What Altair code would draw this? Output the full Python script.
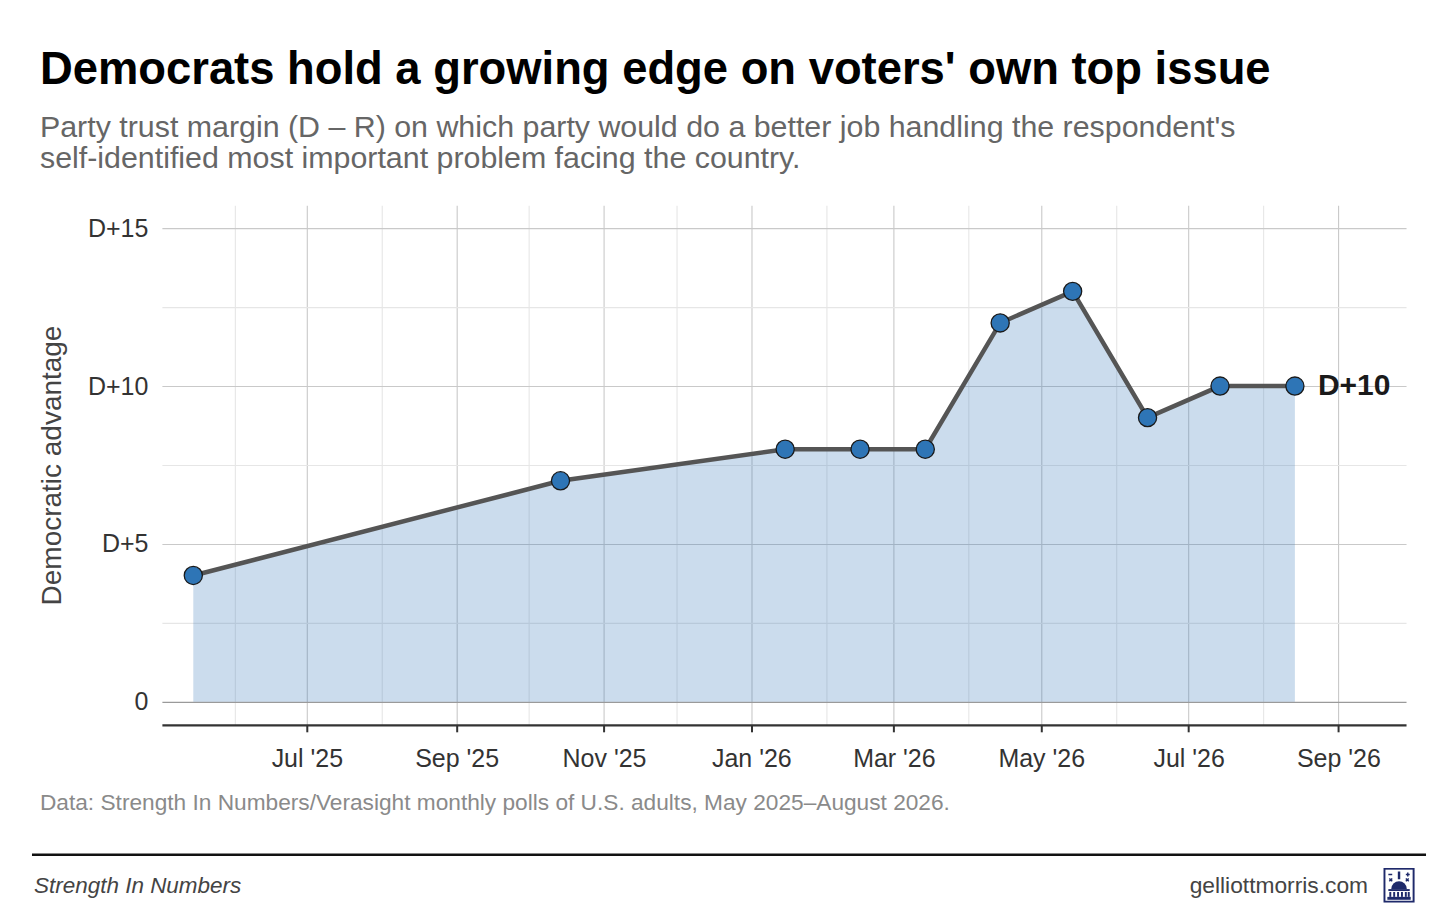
import altair as alt
import pandas as pd
from urllib.parse import quote

# ---- data ----
poll_dates = ["2025-05-15", "2025-10-14", "2026-01-15", "2026-02-15", "2026-03-14",
              "2026-04-14", "2026-05-14", "2026-06-14", "2026-07-14", "2026-08-14"]
margins = [4, 7, 8, 8, 8, 12, 13, 9, 10, 10]

y_ticks = [0, 2.5, 5, 7.5, 10, 12.5, 15]
x_ticks = [(2025, m) for m in range(6, 13)] + [(2026, m) for m in range(1, 10)]

title_text = "Democrats hold a growing edge on voters' own top issue"
subtitle_lines = [
    "Party trust margin (D \u2013 R) on which party would do a better job handling the respondent's",
    "self-identified most important problem facing the country.",
]
caption_text = "Data: Strength In Numbers/Verasight monthly polls of U.S. adults, May 2025\u2013August 2026."
footer_left = "Strength In Numbers"
footer_right = "gelliottmorris.com"

FONT = "Liberation Sans"

df = pd.DataFrame({"date": poll_dates, "margin": margins})
df["label"] = ["D+" + str(v) for v in margins]
df["is_last"] = [i == len(margins) - 1 for i in range(len(margins))]

x_scale = alt.Scale(type="utc",
                    domain=[alt.DateTime(year=2025, month=5, date=2, utc=True),
                            alt.DateTime(year=2026, month=9, date=29, utc=True)],
                    nice=False)
y_scale = alt.Scale(domain=[-0.73, 15.73], nice=False, zero=False)

x_axis = alt.Axis(
    values=[alt.DateTime(year=y, month=m, date=1, utc=True) for y, m in x_ticks],
    labelExpr="utcmonth(datum.value) % 2 == 0 ? utcFormat(datum.value, \"%b '%y\") : ''",
    title=None,
    grid=True,
    gridColor={"condition": {"test": "utcmonth(datum.value) % 2 == 0", "value": "#c9c9c9"},
               "value": "#e6e6e6"},
    gridWidth=1.1,
    tickColor={"condition": {"test": "utcmonth(datum.value) % 2 == 0", "value": "#333333"},
               "value": "transparent"},
    tickSize=7,
    tickWidth=2,
    domain=True,
    domainColor="#333333",
    domainWidth=2.2,
    labelFont=FONT,
    labelFontSize=25,
    labelColor="#333333",
    labelPadding=15,
    labelFlush=False,
)

y_axis = alt.Axis(
    values=y_ticks,
    labelExpr="datum.value == 0 ? '0' : (datum.value % 5 == 0 ? 'D+' + datum.value : '')",
    title="Democratic advantage",
    titleFont=FONT,
    titleFontSize=28,
    titleFontWeight="normal",
    titleColor="#444444",
    titlePadding=21,
    grid=True,
    gridColor={"condition": [{"test": "datum.value == 0", "value": "#9a9a9a"},
                             {"test": "datum.value % 5 == 0", "value": "#c9c9c9"}],
               "value": "#e6e6e6"},
    gridWidth=1.1,
    ticks=False,
    domain=False,
    labelFont=FONT,
    labelFontSize=25,
    labelColor="#333333",
    labelPadding=14,
)

base = alt.Chart(df)

area = base.mark_area(color="#2e75b6", opacity=0.25).encode(
    x=alt.X("date:T", scale=x_scale, axis=x_axis),
    y=alt.Y("margin:Q", scale=y_scale, axis=y_axis),
    y2=alt.datum(0),
)

line = base.mark_line(color="#555555", strokeWidth=4.5).encode(
    x="date:T", y="margin:Q")

points = base.mark_point(filled=True, fill="#2e75b6", stroke="#1a1a1a",
                         strokeWidth=1.3, size=330, opacity=1).encode(
    x="date:T", y="margin:Q")

end_label = base.transform_filter("datum.is_last").mark_text(
    align="left", baseline="middle", dx=23, font=FONT, fontSize=30,
    fontWeight="bold", color="#1a1a1a").encode(
    x="date:T", y="margin:Q", text="label:N")

def text_layer(txt, x, y, **kw):
    return alt.Chart(pd.DataFrame({"t": [txt]})).mark_text(font=FONT, **kw).encode(
        text="t:N", x=alt.value(x), y=alt.value(y))

caption = text_layer(caption_text, -122, 605, align="left", baseline="alphabetic",
                     fontSize=22.7, color="#8a8a8a")
foot_l = text_layer(footer_left, -128, 688, align="left", baseline="alphabetic",
                    fontSize=22.5, fontStyle="italic", color="#444444")
foot_r = text_layer(footer_right, 1207, 688, align="right", baseline="alphabetic",
                    fontSize=22.8, color="#444444")

rule = alt.Chart(pd.DataFrame({"r": [0]})).mark_rule(color="#111111", strokeWidth=2.5).encode(
    x=alt.value(-130), x2=alt.value(1265), y=alt.value(650))

logo_svg = (
    '<svg xmlns="http://www.w3.org/2000/svg" viewBox="0 0 32 36">'
    '<rect x="1" y="1" width="30" height="34" fill="white" stroke="#1f2a6b" stroke-width="2"/>'
    '<path d="M16 4 v8" stroke="#1f2a6b" stroke-width="2.5"/>'
    '<path d="M5 7 h4 M23 7 h4 M25 5 v4 M6 11 l3 3 M9 11 l-3 3 M23 11 l3 3 M26 11 l-3 3" stroke="#1f2a6b" stroke-width="1.5"/>'
    '<path d="M8 22 a8 8 0 0 1 16 0 z" fill="#1f2a6b"/>'
    '<rect x="5" y="22" width="22" height="2" fill="#1f2a6b"/>'
    '<g fill="#1f2a6b"><rect x="6" y="25" width="2" height="5"/><rect x="10" y="25" width="2" height="5"/>'
    '<rect x="14" y="25" width="2" height="5"/><rect x="18" y="25" width="2" height="5"/>'
    '<rect x="22" y="25" width="2" height="5"/><rect x="25" y="25" width="2" height="5"/></g>'
    '<rect x="4" y="30" width="24" height="3" fill="#1f2a6b"/>'
    '</svg>'
)
logo = alt.Chart(pd.DataFrame({"u": ["data:image/svg+xml;utf8," + quote(logo_svg)]})).mark_image(
    align="left", baseline="top", width=32, height=35).encode(
    url="u:N", x=alt.value(1222), y=alt.value(663))

chart = alt.layer(area, line, points, end_label, caption, rule, foot_l, foot_r, logo).properties(
    width=1245,
    height=520,
    background="white",
    padding={"left": 22, "top": 40, "right": 20, "bottom": 5},
    title=alt.TitleParams(
        text=title_text,
        subtitle=subtitle_lines,
        anchor="start",
        frame="group",
        dx=-122,
        font=FONT,
        fontSize=45.4,
        fontWeight="bold",
        color="#000000",
        subtitleFont=FONT,
        subtitleFontSize=30.4,
        subtitleColor="#666666",
        subtitleLineHeight=31,
        subtitlePadding=19,
        offset=31,
    ),
).configure_view(stroke=None)

chart.save("out.html", embed_options={"renderer": "svg", "actions": False})
